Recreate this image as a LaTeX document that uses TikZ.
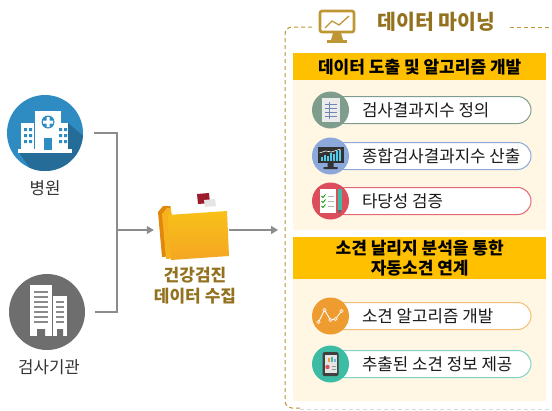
\documentclass[tikz,border=0pt]{standalone}
\usepackage{fontspec}
\setmainfont{Noto Sans CJK KR}
\usepackage{tikz}
\usetikzlibrary{arrows.meta,positioning,calc}
\definecolor{MineGold}{HTML}{BE9634}
\definecolor{MineBrown}{HTML}{93721F}
\definecolor{MineBand}{HTML}{FFC000}
\definecolor{MineCream}{HTML}{FFF7E4}
\definecolor{HospBlue}{HTML}{2F8CC3}
\definecolor{LabGray}{HTML}{6E6E6E}
\definecolor{LinkGray}{HTML}{8C8C8C}
\definecolor{ItemSage}{HTML}{7F9D8C}
\definecolor{ItemBlue}{HTML}{8DA8DA}
\definecolor{ItemRed}{HTML}{DD4E5D}
\definecolor{ItemOrange}{HTML}{EE9B2F}
\definecolor{ItemTeal}{HTML}{3CBCA4}
\definecolor{FolderOrange}{HTML}{F5A623}
\definecolor{FolderDark}{HTML}{E0870E}
\definecolor{FlagRed}{HTML}{9C1C2E}

% one step of the mining box: name, y, badge colour, rim colour, text
\newcommand\stepitem[5]{%
  \node[pill,draw=#4] (#1) at (431,#2) {};
  \node[lbl,anchor=west,text=black!90] (#1Txt) at ([xshift=28pt]#1.west) {#5};
  \node[badge,fill=#3] (#1Ico) at (#1.west) {};}

\begin{document}
\begin{tikzpicture}[x=1pt,y=-1pt,
  lbl/.style={font=\fontsize{16.8}{20}\selectfont,text=black!80},
  link/.style={LinkGray,line width=1.1pt},
  arr/.style={link,-{Triangle[length=7pt,width=8pt]}},
  frame/.style={MineGold,line width=1pt,dash pattern=on 4pt off 3pt},
  panel/.style={fill=MineCream,rounded corners=2pt,minimum width=253pt,anchor=north west,inner sep=0},
  band/.style={fill=MineBand,minimum width=253pt,anchor=north west,align=center,inner sep=0,
    font=\fontsize{17}{20}\selectfont\bfseries},
  pill/.style={line width=1pt,fill=white,rounded corners=13.5pt,minimum width=200pt,minimum height=27pt},
  badge/.style={circle,minimum size=37pt,inner sep=0}]
\useasboundingbox (0,0) rectangle (552,410);

% sources
\node[circle,fill=HospBlue,minimum size=76pt,inner sep=0] (hosp) at (45,133) {};
\begin{scope}
\clip (45,133) circle (38);
\fill[HospBlue!78!black] (68,123) -- (68,151) -- (18,151) -- (45,190) -- (100,190) -- (100,150) -- cycle;
\end{scope}
\fill[white] (18,149) rectangle (72,153);
\fill[white] (35,111) rectangle (61,150);
\fill[white] (21,123) rectangle (34,150);
\fill[white] (57,123) rectangle (68,150);
\fill[HospBlue] (48,122) circle (6.5);
\fill[white] (46.5,117) rectangle (49.5,127) (43,120.5) rectangle (53,123.5);
\fill[HospBlue] (44,138) rectangle (52,150);
\foreach \wy in {128,134,140} {
  \fill[HospBlue] (24,\wy) rectangle +(3,3) (29,\wy) rectangle +(3,3);
  \fill[HospBlue] (59,\wy) rectangle +(3,3) (64,\wy) rectangle +(3,3);}
\node[lbl] (hospLbl) at (45,188) {병원};

\node[circle,fill=LabGray,minimum size=76pt,inner sep=0] (lab) at (47,312) {};
\fill[white] (30,285) rectangle (52,336);
\fill[white] (53,296) rectangle (67,336);
\foreach \wy in {291,296,301,306,311,316,321} {
  \fill[LabGray!80] (34,\wy) rectangle +(14,2);}
\foreach \wy in {301,306,311,316,321} {
  \fill[LabGray!80] (56,\wy) rectangle +(8,2);}
\fill[LabGray] (37,329) rectangle (45,336) (57,329) rectangle (63,336);
\node[lbl] (labLbl) at (49,367) {검사기관};

% collected data
\node[minimum width=70pt,minimum height=60pt,inner sep=0] (folder) at (194,230) {};
\fill[FolderDark] (158,212) -- (163,206) -- (176,206) -- (178,209) -- (214,207) -- (217,211) -- (220,252) -- (162,257) -- cycle;
\fill[FolderOrange!85!yellow] (162,214) -- (167,208) -- (180,208) -- (182,211) -- (218,209) -- (221,213) -- (224,254) -- (166,259) -- cycle;
\fill[white] (170,203) -- (221,200) -- (223,213) -- (172,216) -- cycle;
\fill[FlagRed] (197,194) -- (209,193) -- (210,203) -- (198,204) -- cycle;
\fill[black!10] (204,200) -- (215,199) -- (216,206) -- (205,207) -- cycle;
\shade[top color=FolderOrange!70!yellow,bottom color=FolderOrange] (168,215) -- (227,211) -- (229,256) -- (171,260) -- cycle;
\node[font=\fontsize{17}{21}\selectfont\bfseries,text=MineBrown,align=center] (folderLbl) at (195,286) {건강검진\\데이터 수집};

\coordinate (join) at (117,230);
\coordinate (mineIn) at (278,230);
\draw[link] ([xshift=11pt]hosp.east) -| (join);
\draw[link] ([xshift=10pt]lab.east) -| (join);
\draw[arr] (join) -- ([xshift=-5pt]folder.west);
\draw[arr] (folder.east) -- (mineIn);

% mining box
\draw[frame,rounded corners=7pt] (312,27) -- (285,27) -- (285,408) -- (300,408);
\draw[frame] (510,27) -- (560,27);
\draw[black!15,line width=1pt,dash pattern=on 4pt off 3pt] (300,409) -- (560,409);
\draw[MineGold,line width=2.6pt,rounded corners=2pt] (320,11) rectangle (354,32);
\fill[MineGold] (333,33) -- (341,33) -- (343,40) -- (331,40) -- cycle;
\fill[MineGold] (327,40) rectangle (347,43);
\draw[MineGold,line width=1.3pt] (325,28) -- (332,21) -- (339,25) -- (349,16);
\node[anchor=west,text=MineBrown,font=\fontsize{20.5}{24}\selectfont\bfseries] (mineTitle) at (374,22) {데이터 마이닝};

\node[panel,minimum height=177pt] (derive) at (293,53) {};
\node[band,minimum height=27pt] (deriveHd) at (derive.north west) {데이터 도출 및 알고리즘 개발};
\node[panel,minimum height=164pt] (relate) at (293,237) {};
\node[band,minimum height=42pt] (relateHd) at (relate.north west) {소견 날리지 분석을 통한\\자동소견 연계};

\stepitem{idxDef}{110}{ItemSage}{ItemSage}{검사결과지수 정의}
\stepitem{idxSum}{156}{ItemBlue}{ItemBlue}{종합검사결과지수 산출}
\stepitem{valid}{201}{ItemRed}{ItemRed!85}{타당성 검증}
\stepitem{algo}{316}{ItemOrange}{ItemOrange!65}{소견 알고리즘 개발}
\stepitem{report}{364}{ItemTeal}{ItemTeal!65}{추출된 소견 정보 제공}

% badge glyphs
\begin{scope}[shift={(idxDefIco)}]
\fill[black!8] (-9,-12) rectangle (9,12);
\foreach \ry in {-6,-2,2,6} \draw[ItemBlue!80!black,line width=.8pt] (-6,\ry) -- (6,\ry);
\draw[ItemBlue!80!black,line width=.8pt] (-1,-8) -- (-1,9);
\end{scope}
\begin{scope}[shift={(idxSumIco)}]
\fill[black!80] (-13,-9) rectangle (13,7);
\fill[black!80] (-3,7) rectangle (3,11) (-7,11) rectangle (7,13);
\foreach \bx/\bh in {-10/4,-7/6,-4/5,-1/8,2/7,5/10,8/11} \fill[ItemBlue!60!cyan] (\bx,5) rectangle +(2,-\bh);
\draw[white,line width=.6pt] (-11,-3) -- (-5,-5) -- (1,-4) -- (10,-7);
\end{scope}
\begin{scope}[shift={(validIco)}]
\fill[white] (-11,-12) rectangle (5,12);
\foreach \ry in {-5,0,5} {
  \draw[green!60!black,line width=.8pt] (-9,\ry) -- (-7.5,\ry+1.5) -- (-5,\ry-1.5);
  \draw[black!30,line width=.8pt] (-3,\ry) -- (3,\ry);}
\fill[ItemTeal] (7,-12) rectangle (11,9);
\fill[black!60] (7,9) -- (11,9) -- (9,13) -- cycle;
\end{scope}
\begin{scope}[shift={(algoIco)}]
\draw[white,line width=.9pt] (-12,6) -- (-6,-6) -- (0,4) -- (5,3) -- (11,-5);
\foreach \px/\py in {-12/6,-6/-6,0/4,5/3,11/-5} \filldraw[fill=ItemOrange!60,draw=white] (\px,\py) circle (1.8);
\end{scope}
\begin{scope}[shift={(reportIco)}]
\fill[black!75,rounded corners=1.5pt] (-8,-12) rectangle (8,12);
\fill[white!90!black] (-6,-9) rectangle (6,9);
\fill[ItemOrange] (-3,-2) rectangle (-1,-6);
\fill[ItemTeal] (0,-2) rectangle (2,-7);
\fill[ItemBlue] (3,-2) rectangle (5,-5);
\fill[ItemRed] (-3,3) circle (2.2);
\draw[black!40,line width=.6pt] (1,2) -- (5,2) (1,5) -- (5,5);
\end{scope}
\end{tikzpicture}
\end{document}
